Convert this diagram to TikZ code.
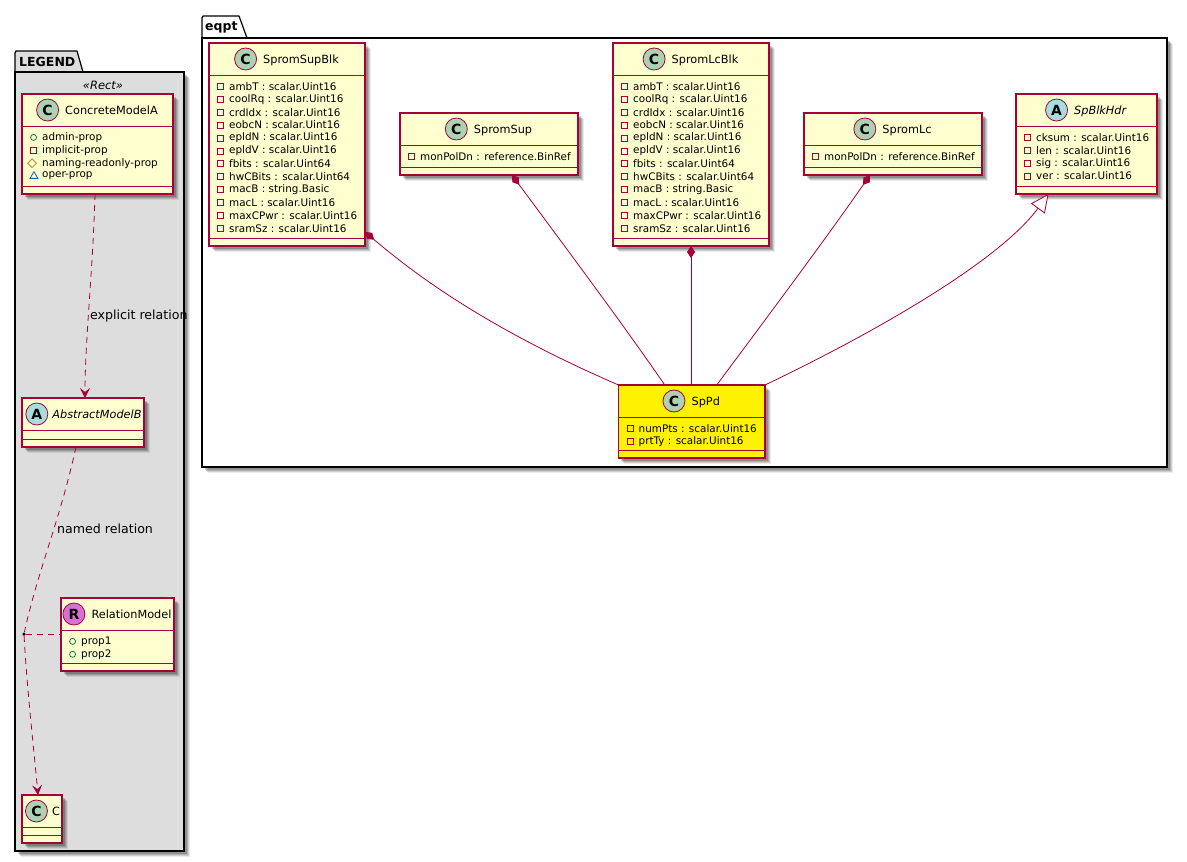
\documentclass[tikz,border=0pt]{standalone}
\usepackage{fontspec}
\setmainfont{DejaVu Sans}
\usetikzlibrary{arrows.meta,positioning,shadows,shapes.geometric}
\definecolor{umlline}{HTML}{A80036}
\definecolor{umlfill}{HTML}{FEFECE}
\definecolor{legendfill}{HTML}{DDDDDD}
\definecolor{spotgreen}{HTML}{ADD1B2}
\definecolor{spotblue}{HTML}{A9DCDF}
\definecolor{orchid}{HTML}{DA70D6}
\definecolor{pubgreen}{HTML}{038048}
\definecolor{protgold}{HTML}{B38D22}
\definecolor{pkgblue}{HTML}{1963A0}
\tikzset{
    softshadow/.style = {general shadow={shadow xshift=2.5pt, shadow yshift=-2.5pt, fill=black, opacity=.18},
        general shadow={shadow xshift=3.5pt, shadow yshift=-3.5pt, fill=black, opacity=.15},
        general shadow={shadow xshift=4.5pt, shadow yshift=-4.5pt, fill=black, opacity=.12},
        general shadow={shadow xshift=5.5pt, shadow yshift=-5.5pt, fill=black, opacity=.08}},
    classbox/.style = {draw=umlline, fill=umlfill, line width=1.1pt, rectangle, anchor=north west, inner sep=0pt, outer sep=0pt, softshadow},
    classline/.style = {draw=umlline, line width=1pt},
    classtitle/.style = {font=\fontsize{11.3}{13}\selectfont, inner sep=0pt, text depth=0pt},
    spot/.style = {circle, draw=umlline, line width=.8pt, minimum size=22pt, inner sep=0pt, font=\fontsize{14}{16}\bfseries\selectfont},
    spotC/.style = {spot, fill=spotgreen},
    spotA/.style = {spot, fill=spotblue},
    spotR/.style = {spot, fill=orchid},
    attrtext/.style = {font=\fontsize{10.4}{12}\selectfont, anchor=west, inner sep=0pt},
    attrpriv/.style = {draw=umlline, line width=.8pt, rectangle, minimum size=6pt, inner sep=0pt},
    attrpub/.style = {draw=pubgreen, line width=.8pt, circle, minimum size=6pt, inner sep=0pt},
    attrprot/.style = {draw=protgold, line width=.8pt, diamond, minimum size=9pt, inner sep=0pt},
    attrpkg/.style = {draw=pkgblue, line width=.8pt, regular polygon, regular polygon sides=3, minimum size=9pt, inner sep=0pt},
    package/.style = {draw=black, line width=1.2pt, rectangle, anchor=north west, inner sep=0pt, outer sep=0pt, softshadow},
    packagetab/.style = {draw=black, line width=1.2pt, line join=round},
    packagetitle/.style = {font=\fontsize{12.5}{14}\bfseries\selectfont, anchor=west, inner sep=0pt},
    relline/.style = {draw=umlline, line width=.8pt},
    dashrel/.style = {relline, dash pattern=on 6pt off 5pt},
    deprel/.style = {dashrel, -{Stealth[length=10pt, width=10pt, inset=4pt]}},
    comprel/.style = {relline, {Diamond[length=12pt, width=8pt, fill=umlline]}-},
    extrel/.style = {relline, {Triangle[open, length=18pt, width=17pt, fill=white]}-},
    rellabel/.style = {font=\fontsize{12.6}{14}\selectfont, inner sep=0pt, anchor=west},
}
\newcommand{\classbox}[8][]{
    \node[classbox, minimum width=#4pt, minimum height=#5pt, #1] (#2) at (#3) {};
    \draw[classline] ([yshift=-32pt]#2.north west) -- ([yshift=-32pt]#2.north east);
    \draw[classline] ([yshift=8pt]#2.south west) -- ([yshift=8pt]#2.south east);
    \node[classtitle] (#2title) at ([xshift=14pt, yshift=-16pt]#2.north) {#7};
    \node[spot#6, left=6pt of #2title.west] (#2spot) {#6};
    \edef\attrlist{#8}
    \foreach \vis/\txt [count=\i] in \attrlist {
        \node[attrtext] (#2attr\i) at ([xshift=20pt, yshift=-30.5pt-12.9pt*\i]#2.north west) {\txt};
        \node[attr\vis, left=5pt of #2attr\i.west] (#2mark\i) {};
    }
}
\newcommand{\emptyclass}[7][]{
    \node[classbox, minimum width=#4pt, minimum height=#5pt, #1] (#2) at (#3) {};
    \draw[classline] ([yshift=-32pt]#2.north west) -- ([yshift=-32pt]#2.north east);
    \draw[classline] ([yshift=8pt]#2.south west) -- ([yshift=8pt]#2.south east);
    \node[classtitle] (#2title) at ([xshift=14pt, yshift=-16pt]#2.north) {#7};
    \node[spot#6, left=4pt of #2title.west] (#2spot) {#6};
}
\def\blkattrs{priv/ambT : scalar.Uint16,priv/coolRq : scalar.Uint16,priv/crdIdx : scalar.Uint16,priv/eobcN : scalar.Uint16,priv/epldN : scalar.Uint16,priv/epldV : scalar.Uint16,priv/fbits : scalar.Uint64,priv/hwCBits : scalar.Uint64,priv/macB : string.Basic,priv/macL : scalar.Uint16,priv/maxCPwr : scalar.Uint16,priv/sramSz : scalar.Uint16}

\begin{document}
\begin{tikzpicture}[x=1pt, y=-1pt]
\useasboundingbox (0,0) rectangle (1187,862);
% packages
\draw[packagetab, fill=legendfill] (15,72) -- (15,53) -- (16,51) -- (77,51) -- (83,72) -- cycle;
\node[packagetitle] (legendtitle) at (19,62) {LEGEND};
\node[package, fill=legendfill, minimum width=169pt, minimum height=779pt] (legend) at (15,72) {};
\node[font=\fontsize{11.5}{13}\itshape\selectfont, inner sep=0pt] (legendstereo) at (103,85) {«Rect»};
\draw[packagetab, fill=white] (202,38) -- (202,18) -- (203,16) -- (239,16) -- (247,38) -- cycle;
\node[packagetitle] (eqpttitle) at (205,27) {eqpt};
\node[package, fill=white, minimum width=965pt, minimum height=429pt] (eqpt) at (202,38) {};
% legend classes
\classbox{ConcreteModelA}{22,94}{151}{100}{C}{ConcreteModelA}{pub/admin-prop,priv/implicit-prop,prot/naming-readonly-prop,pkg/oper-prop}
\emptyclass{AbstractModelB}{22,398}{122}{49}{A}{\textit{AbstractModelB}}
\classbox{RelationModel}{61,598}{113}{73}{R}{RelationModel}{pub/prop1,pub/prop2}
\emptyclass{C}{22,795}{40}{48}{C}{C}
\node[circle, fill=black, inner sep=0pt, minimum size=3.5pt] (assocdot) at (24,634) {};
\draw[deprel] ([xshift=-2.5pt]ConcreteModelA.south) .. controls (93,270) and (85,340) .. ([xshift=2pt]AbstractModelB.north);
\draw[dashrel] ([xshift=-7pt]AbstractModelB.south) .. controls (60,520) and (38,570) .. (assocdot);
\draw[deprel] (assocdot) .. controls (27,690) and (34,750) .. ([xshift=-4pt]C.north);
\draw[dashrel] (assocdot) -- (assocdot -| RelationModel.west);
\node[rellabel] (explicitlabel) at (90,316) {explicit relation};
\node[rellabel] (namedlabel) at (57,529) {named relation};
% eqpt classes
\classbox{SpromSupBlk}{209,43}{156}{203}{C}{SpromSupBlk}{\blkattrs}
\classbox{SpromSup}{400,113}{178}{62}{C}{SpromSup}{priv/monPolDn : reference.BinRef}
\classbox{SpromLcBlk}{613,43}{156}{203}{C}{SpromLcBlk}{\blkattrs}
\classbox{SpromLc}{804,113}{178}{62}{C}{SpromLc}{priv/monPolDn : reference.BinRef}
\classbox{SpBlkHdr}{1016,94}{141}{100}{A}{\textit{SpBlkHdr}}{priv/cksum : scalar.Uint16,priv/len : scalar.Uint16,priv/sig : scalar.Uint16,priv/ver : scalar.Uint16}
\classbox[fill=yellow]{SpPd}{618.5,385}{146.5}{73}{C}{SpPd}{priv/numPts : scalar.Uint16,priv/prtTy : scalar.Uint16}
% relations
\draw[comprel] ([yshift=14pt]SpromSupBlk.south east) .. controls (410,270) and (480,325) .. (SpPd.north west);
\draw[comprel] ([xshift=23pt]SpromSup.south) .. controls (560,240) and (620,320) .. ([xshift=-27pt]SpPd.north);
\draw[comprel] (SpromLcBlk.south) -- (SpromLcBlk.south |- SpPd.north);
\draw[comprel] ([xshift=-23pt]SpromLc.south) .. controls (825,240) and (765,320) .. ([xshift=25pt]SpPd.north);
\draw[extrel] ([xshift=-38pt]SpBlkHdr.south) .. controls (1000,260) and (880,330) .. (SpPd.north east);
\end{tikzpicture}
\end{document}
